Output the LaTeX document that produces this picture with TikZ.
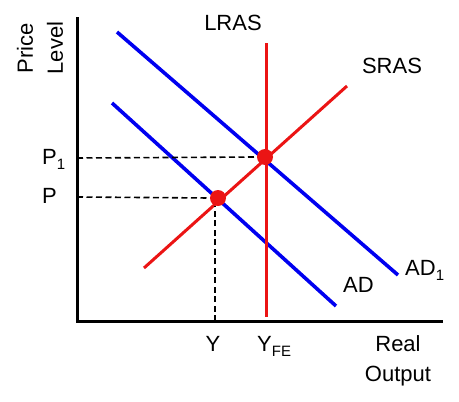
\documentclass[tikz,border=0pt]{standalone}
\usepackage{fontspec}
\setmainfont{Liberation Sans}
\usepackage{xcolor}
\definecolor{adblue}{RGB}{0,0,240}
\definecolor{asred}{RGB}{235,20,20}
\usepackage{tikz}
\usetikzlibrary{arrows.meta, positioning}

\newcommand{\lowidx}[1]{\raisebox{-5pt}{\fontsize{15}{15}\selectfont #1}}

\tikzset{
  axisline/.style={black, line width=3pt},
  adcurve/.style={adblue, line width=3.6pt},
  ascurve/.style={asred, line width=3pt},
  guide/.style={black, line width=1.6pt, dash pattern=on 6pt off 3.5pt},
  eqdot/.style={circle, fill=asred, inner sep=0pt, minimum size=16pt},
  lbl/.style={inner sep=0pt, font=\fontsize{22}{30}\selectfont}
}

\begin{document}
\begin{tikzpicture}[x=1pt, y=-1pt]
\useasboundingbox (0,0) rectangle (459,402);

% === Axes ===
\coordinate (ytop) at (77,17);
\coordinate (origin) at (77,321);
\coordinate (xend) at (443,321);
\draw[axisline] (ytop) -- (origin) -- (xend);

% axis titles
\node[lbl, rotate=90, align=center] (ylab) at (40,48) {Price\\Level};
\node[lbl, align=center, anchor=base] (xlab) at (398,381) {Real\\Output};

% === Aggregate demand ===
\coordinate (ad1a) at (117,32);
\coordinate (ad1b) at (398,275);
\coordinate (ada) at (112,103);
\coordinate (adb) at (336,306);
\draw[adcurve] (ad1a) -- (ad1b);
\draw[adcurve] (ada) -- (adb);

% === Aggregate supply ===
\coordinate (srasa) at (144,268);
\coordinate (srasb) at (347,86);
\coordinate (lrasa) at (266,43);
\coordinate (lrasb) at (266,317);
\draw[ascurve] (srasa) -- (srasb);
\draw[ascurve] (lrasa) -- (lrasb);

% curve labels
\node[lbl, anchor=base] (lraslab) at (233,30) {LRAS};
\node[lbl, anchor=base] (sraslab) at (392,73) {SRAS};
\node[lbl, anchor=base west] (ad1lab) at (405,275) {AD\lowidx{1}};
\node[lbl, anchor=base west] (adlab) at (343,292) {AD};

% === Equilibria ===
\node[eqdot] (eqfe) at (265,157) {};
\node[eqdot] (eq) at (218,198) {};

\coordinate (p1ax) at (77,158);
\coordinate (pax) at (77,197);
\coordinate (yax) at (215,321);
\draw[guide] (p1ax) -- (eqfe.west);
\draw[guide] (pax) -- (eq.west);
\draw[guide] (yax) -- (eq.south -| yax);

% axis ticks labels
\node[lbl, anchor=base west] (p1lab) at (42,164) {P\lowidx{1}};
\node[lbl, anchor=base west] (plab) at (42,203) {P};
\node[lbl, anchor=base] (ylbl) at (213,351) {Y};
\node[lbl, anchor=base west] (yfelab) at (257,351) {Y\lowidx{FE}};

\end{tikzpicture}
\end{document}
